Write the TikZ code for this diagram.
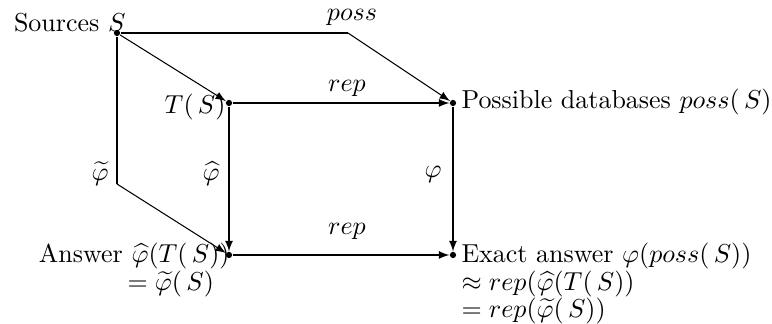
\documentclass[tikz,border=0pt]{standalone}
\usetikzlibrary{arrows}
\begin{document}
\begin{tikzpicture}[x=0.385pt,y=-0.385pt,>=latex,
  every node/.style={inner sep=0pt},
  punto/.style={circle,fill=black,minimum size=2.4pt}]
  \useasboundingbox (0,0) rectangle (772,324);

  % Vértices del diagrama
  \node[punto] (S) at (117,33) {};
  \node[punto] (T) at (229,103) {};
  \node[punto] (P) at (453,103) {};
  \node[punto] (A) at (229,255) {};
  \node[punto] (E) at (453,255) {};
  \coordinate (c1) at (348,33);
  \coordinate (c2) at (117,184);

  % Textos de los vértices
  \node[anchor=base east] (tS) at (126,32) {Sources $S$};
  \node[anchor=base east] (tT) at (226,114) {$T(\,S)$};
  \node[anchor=base west] (tP) at (461,109) {Possible databases $poss(\,S)$};
  \node[anchor=north east,align=right] (tA) at (230,243)
    {Answer $\widehat{\varphi}(T(\,S))$\\[-1.5pt] $=\widetilde{\varphi}(\,S)$\hspace*{6pt}};
  \node[anchor=north west,align=left] (tE) at (461,243)
    {Exact answer $\varphi(poss(\,S))$\\[-1.5pt] $\approx rep(\widehat{\varphi}(T(\,S))$\\[-1.5pt] $=rep(\widetilde{\varphi}(\,S))$};

  % Aristas
  \draw (S) -- (c1);
  \draw[->] (c1) -- (P);
  \draw[->] (S) -- (T);
  \draw (S) -- (c2);
  \draw[->] (c2) -- (A);
  \foreach \from/\to in {T/P, A/E, T/A, P/E}
    \draw[->] (\from) -- (\to);

  % Etiquetas de las aristas
  \node[anchor=base] (lposs) at (352,21) {$poss$};
  \node[anchor=base] (lrep1) at (347,92) {$rep$};
  \node[anchor=base] (lrep2) at (347,235) {$rep$};
  \node (lphit) at (100,174) {$\widetilde{\varphi}$};
  \node (lphih) at (211,174) {$\widehat{\varphi}$};
  \node (lphi) at (433,174) {$\varphi$};
\end{tikzpicture}
\end{document}
